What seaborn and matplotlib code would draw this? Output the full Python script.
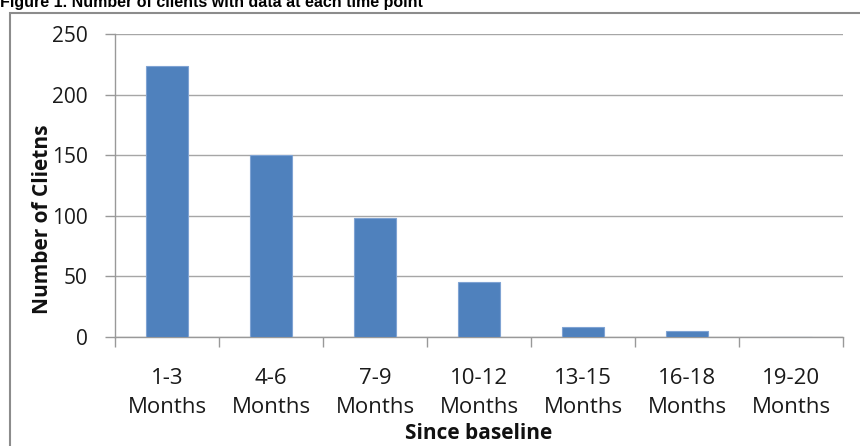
import matplotlib
matplotlib.use("Agg")
import matplotlib.pyplot as plt
from matplotlib.patches import Rectangle
import seaborn as sns
import pandas as pd

# Data
periods = ["1-3", "4-6", "7-9", "10-12", "13-15", "16-18", "19-20"]
tick_labels = [p + "\nMonths" for p in periods]
clients = [224, 150, 98, 45, 8, 5, 0]

df = pd.DataFrame({"period": tick_labels, "clients": clients})

sns.set_theme(style="white")
plt.rcParams["font.family"] = ["Open Sans", "DejaVu Sans"]

fig = plt.figure(figsize=(8.6, 4.46), dpi=100)
ax = fig.add_axes([115 / 860, 1 - 337 / 446, 728 / 860, 303 / 446])

sns.barplot(data=df, x="period", y="clients", color="#4F81BD",
            width=0.41, saturation=1, edgecolor="#7FA3D3", linewidth=0.8,
            ax=ax, zorder=3)

grey = "#999999"
ax.set_ylim(0, 250)
ax.set_xlim(-0.5, len(periods) - 0.5)
ax.set_yticks(range(0, 251, 50))
ax.yaxis.grid(True, color="#A6A6A6", linewidth=1.0, zorder=0)
ax.xaxis.grid(False)

# category boundaries as major ticks, labels on minor ticks at the centres
ax.set_xticks([i - 0.5 for i in range(len(periods) + 1)])
ax.set_xticklabels([])
ax.set_xticks(range(len(periods)), minor=True)
ax.set_xticklabels(tick_labels, minor=True, fontsize=16, color="#1a1a1a",
                   linespacing=1.5)
ax.tick_params(axis="x", which="major", direction="out", length=7,
               width=1, color=grey, bottom=True)
ax.tick_params(axis="x", which="minor", length=0, pad=22, bottom=True)
ax.tick_params(axis="y", direction="out", length=7.5, width=1, color=grey,
               labelsize=15, pad=12, labelcolor="#1a1a1a", left=True)

for side in ("top", "right"):
    ax.spines[side].set_visible(False)
for side in ("left", "bottom"):
    ax.spines[side].set_color(grey)
    ax.spines[side].set_linewidth(1.0)

ax.set_xlabel("Since baseline", fontsize=15, fontweight="bold", color="#111111")
ax.xaxis.set_label_coords(0.5, -0.32)
ax.xaxis.label.set_va("center")
ax.set_ylabel("Number of Clietns", fontsize=15, fontweight="bold", color="#111111")
ax.yaxis.set_label_coords(-0.1, 0.39)
ax.yaxis.label.set_va("center")

# outer chart frame
fig.patches.append(Rectangle((10 / 860, -0.2), 2.0, (446 - 13) / 446 + 0.2,
                             transform=fig.transFigure, fill=False,
                             edgecolor="#8C8C8C", linewidth=1.5))

fig.text(0.0, 1 - 7 / 446,
         "Figure 1. Number of clients with data at each time point",
         fontsize=11.5, fontweight="bold", family=["Liberation Sans", "DejaVu Sans"],
         ha="left", va="baseline", color="black")

fig.savefig("out.png", dpi=100)
